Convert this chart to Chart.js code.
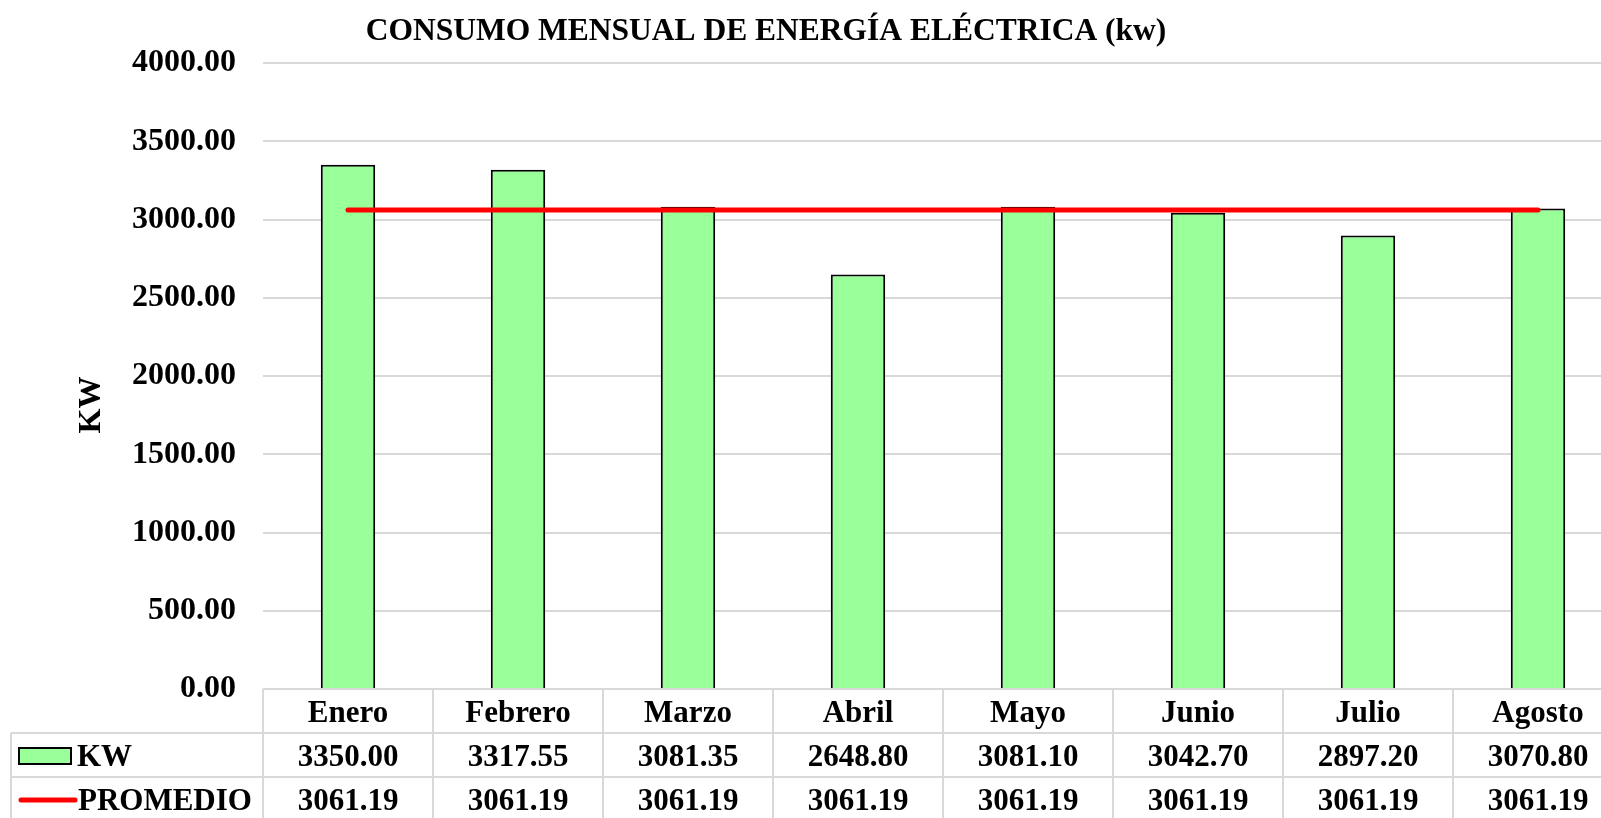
<!DOCTYPE html>
<html>
<head>
<meta charset="utf-8">
<script src="https://cdn.jsdelivr.net/npm/chart.js@4.4.1/dist/chart.umd.min.js"></script>
<style>
  html, body { margin: 0; padding: 0; background: #fff; overflow: hidden; }
  #marco { width: 1601px; height: 818px; overflow: hidden; position: relative; }
  #caja { width: 1623px; height: 818px; position: absolute; left: 0; top: 0; }
</style>
</head>
<body>
<div id="marco"><div id="caja"><canvas id="myChart"></canvas></div></div>
<script>
const meses = ['Enero', 'Febrero', 'Marzo', 'Abril', 'Mayo', 'Junio', 'Julio', 'Agosto'];
const consumo = [3350.00, 3317.55, 3081.35, 2648.80, 3081.10, 3042.70, 2897.20, 3070.80];
const promedio = [3061.19, 3061.19, 3061.19, 3061.19, 3061.19, 3061.19, 3061.19, 3061.19];
const nombres = ['KW', 'PROMEDIO'];
const yMin = 0;
const yMax = 4000;
const yPaso = 500;
const titulo = 'CONSUMO MENSUAL DE ENERGÍA ELÉCTRICA (kw)';
const tituloEje = 'KW';

const fuente = "'Times New Roman', 'Liberation Serif', serif";
const verde = '#99ff99';
const rojo = '#ff0000';
const gris = '#d9d9d9';

// titulo, eje y tabla de datos al estilo Excel
const tablaDatos = {
  id: 'tablaDatos',
  afterDraw(chart) {
    const ctx = chart.ctx;
    const area = chart.chartArea;
    const xs = chart.scales.x;
    const alto = 44;
    const col = (area.right - area.left) / meses.length;
    const top = area.bottom;
    const izq = 11;

    ctx.save();
    ctx.fillStyle = '#000';
    ctx.font = 'bold 31.5px ' + fuente;
    ctx.textAlign = 'center';
    ctx.textBaseline = 'alphabetic';
    ctx.fillText(titulo, 766, 40);

    ctx.save();
    ctx.translate(100, 405);
    ctx.rotate(-Math.PI / 2);
    ctx.font = 'bold 32px ' + fuente;
    ctx.fillText(tituloEje, 0, 0);
    ctx.restore();

    ctx.strokeStyle = gris;
    ctx.lineWidth = 2;
    ctx.beginPath();
    ctx.moveTo(area.left, top);
    ctx.lineTo(area.right, top);
    for (let r = 1; r <= 3; r++) {
      ctx.moveTo(izq, top + r * alto);
      ctx.lineTo(area.right, top + r * alto);
    }
    for (let i = 0; i <= meses.length; i++) {
      const x = area.left + i * col;
      ctx.moveTo(x, top);
      ctx.lineTo(x, top + 3 * alto);
    }
    ctx.moveTo(izq, top + alto);
    ctx.lineTo(izq, top + 3 * alto);
    ctx.stroke();

    ctx.font = 'bold 31px ' + fuente;
    ctx.textBaseline = 'middle';
    meses.forEach((m, i) => {
      const x = xs.getPixelForValue(i);
      ctx.fillText(m, x, top + alto / 2 + 3);
      ctx.fillText(consumo[i].toFixed(2), x, top + alto * 1.5 + 3);
      ctx.fillText(promedio[i].toFixed(2), x, top + alto * 2.5 + 3);
    });

    // claves de leyenda
    const y1 = top + alto * 1.5;
    const y2 = top + alto * 2.5;
    ctx.fillStyle = verde;
    ctx.fillRect(19, y1 - 7, 52, 16);
    ctx.strokeStyle = '#000';
    ctx.lineWidth = 2;
    ctx.strokeRect(19, y1 - 7, 52, 16);
    ctx.strokeStyle = rojo;
    ctx.lineWidth = 5;
    ctx.lineCap = 'round';
    ctx.beginPath();
    ctx.moveTo(21, y2 + 1);
    ctx.lineTo(75, y2 + 1);
    ctx.stroke();

    ctx.fillStyle = '#000';
    ctx.textAlign = 'left';
    ctx.fillText(nombres[0], 77, y1 + 3);
    ctx.fillText(nombres[1], 78, y2 + 3);
    ctx.restore();
  }
};

const myChart = document.getElementById('myChart');
new Chart(myChart, {
  data: {
    labels: meses,
    datasets: [
      {
        type: 'line',
        label: nombres[1],
        data: promedio,
        borderColor: rojo,
        borderWidth: 5,
        borderCapStyle: 'round',
        pointRadius: 0,
        fill: false,
        order: 0
      },
      {
        type: 'bar',
        label: nombres[0],
        data: consumo,
        backgroundColor: verde,
        borderColor: '#000',
        borderWidth: 2,
        barPercentage: 0.32,
        categoryPercentage: 1,
        order: 1
      }
    ]
  },
  options: {
    responsive: true,
    maintainAspectRatio: false,
    animation: false,
    layout: {
      padding: { top: 63, bottom: 129, left: 0, right: 0 }
    },
    plugins: {
      legend: { display: false },
      title: { display: false },
      tooltip: { enabled: false }
    },
    scales: {
      x: {
        display: false,
        offset: true
      },
      y: {
        min: yMin,
        max: yMax,
        afterFit(scale) { scale.width = 263; },
        border: { display: false },
        grid: { color: gris, lineWidth: 2, drawTicks: false },
        ticks: {
          stepSize: yPaso,
          padding: 27,
          color: '#000',
          font: { family: fuente, size: 32, weight: 'bold' },
          callback: (v) => Number(v).toFixed(2)
        }
      }
    }
  },
  plugins: [tablaDatos]
});
</script>
</body>
</html>
